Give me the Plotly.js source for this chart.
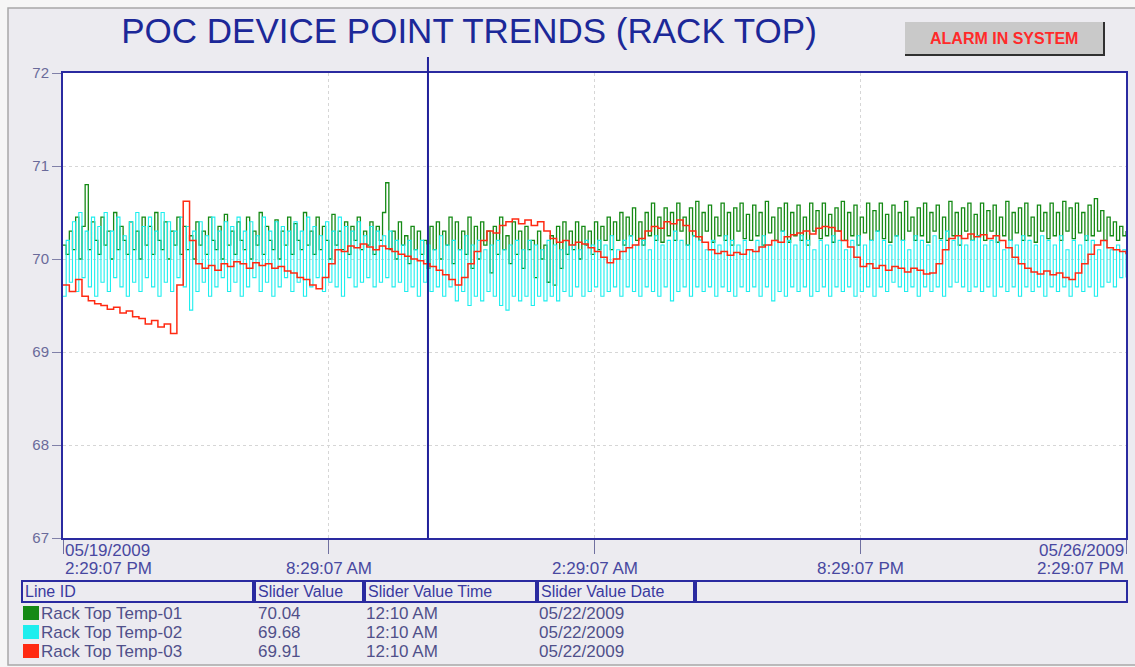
<!DOCTYPE html>
<html>
<head>
<meta charset="utf-8">
<script src="https://cdn.plot.ly/plotly-3.0.1.min.js"></script>
<style>
html,body{margin:0;padding:0;background:#F6F6F6;}
#chart{width:1135px;height:667px;}
</style>
</head>
<body>
<div id="chart"></div>
<script>
// ---------- DATA ----------
const startTime = '2009-05-19 14:29:07';
const endTime   = '2009-05-26 14:29:07';
const spanHours = 168;
const sliderTime = '2009-05-22 00:10:00';

const seriesNames = ['Rack Top Temp-01', 'Rack Top Temp-02', 'Rack Top Temp-03'];

// Rack Top Temp-01 (half-hourly samples)
const temp01 = [
70.15,70.05,70.3,70.1,70.45,70.0,70.35,70.8,70.1,70.4,70.2,70.05,70.45,70.15,70.3,70.0,70.5,70.1,70.35,70.2,70.05,70.4,70.1,70.3,
70.0,70.45,70.15,70.35,70.05,70.5,70.2,70.1,70.4,70.0,70.3,70.15,70.45,70.05,70.35,70.1,70.25,70.0,70.4,70.15,70.3,70.05,70.45,70.2,
70.1,70.35,70.0,70.48,70.15,70.3,70.05,70.4,70.2,70.1,70.45,70.0,70.3,70.15,70.5,70.05,70.35,70.2,70.1,70.42,70.0,70.3,70.15,70.45,
70.05,70.38,70.2,70.1,70.5,70.15,70.3,70.05,70.45,70.1,70.35,70.2,70.0,70.48,70.15,70.3,70.1,70.4,70.05,70.35,70.2,70.45,70.1,70.3,
70.15,70.4,70.05,70.35,70.2,70.5,70.82,70.1,70.3,70.0,70.4,70.15,70.25,69.95,70.35,70.1,70.3,70.05,70.2,69.9,70.35,70.1,70.4,70.0,
70.3,70.15,70.45,69.95,70.4,70.1,70.3,70.05,70.45,69.9,70.35,70.0,70.4,70.15,70.3,69.85,70.35,70.05,70.45,70.1,70.25,69.95,70.4,70.05,
70.3,69.9,70.35,70.1,70.2,69.8,70.3,70.0,70.15,69.75,70.25,69.72,70.35,69.9,70.4,70.05,70.3,70.1,70.4,70.0,70.35,70.15,70.3,70.05,
70.4,70.1,70.35,70.2,70.45,70.1,70.4,70.2,70.5,70.15,70.45,70.25,70.55,70.2,70.4,70.15,70.5,70.25,70.6,70.2,70.45,70.18,70.55,70.25,
70.5,70.2,70.6,70.3,70.45,70.15,70.55,70.25,70.62,70.2,70.5,70.3,70.58,70.18,70.45,70.25,70.6,70.2,70.5,70.15,70.55,70.3,70.6,70.22,
70.48,70.2,70.58,70.25,70.5,70.15,70.62,70.28,70.45,70.2,70.55,70.3,70.6,70.18,70.5,70.25,70.58,70.2,70.45,70.15,70.6,70.3,70.52,70.22,
70.6,70.25,70.48,70.18,70.55,70.3,70.62,70.2,70.5,70.25,70.58,70.15,70.45,70.28,70.6,70.2,70.52,70.3,70.6,70.22,70.48,70.18,70.58,70.25,
70.5,70.2,70.62,70.3,70.45,70.2,70.55,70.25,70.6,70.18,70.5,70.3,70.58,70.22,70.45,70.2,70.62,70.25,70.5,70.15,70.55,70.3,70.6,70.2,
70.48,70.25,70.6,70.2,70.52,70.3,70.58,70.18,70.45,70.25,70.62,70.2,70.5,70.28,70.55,70.2,70.6,70.25,70.45,70.18,70.58,70.3,70.5,70.22,
70.6,70.25,70.5,70.2,70.62,70.3,70.55,70.22,70.6,70.28,70.5,70.2,70.58,70.25,70.65,70.3,70.52,70.2,70.45,70.25,70.4,70.2,70.35,70.25,
70.3
];

// Rack Top Temp-02 (half-hourly samples)
const temp02 = [
69.6,70.2,69.75,70.4,69.65,70.5,69.8,70.3,69.7,70.45,69.6,70.35,69.75,70.5,69.65,70.3,69.8,70.45,69.7,70.25,69.6,70.4,69.75,70.5,
69.65,70.35,69.8,70.45,69.7,70.3,69.6,70.5,69.75,70.4,69.65,70.3,69.8,70.45,69.7,70.35,69.45,70.3,69.65,70.4,69.75,70.25,69.6,70.45,
69.7,70.3,69.8,70.4,69.65,70.35,69.75,70.45,69.6,70.3,69.7,70.4,69.8,70.25,69.65,70.45,69.75,70.3,69.6,70.4,69.7,70.35,69.8,70.3,
69.65,70.4,69.75,70.3,69.6,70.45,69.7,70.35,69.8,70.25,69.65,70.4,69.75,70.3,69.7,70.45,69.6,70.35,69.8,70.3,69.7,70.4,69.75,70.25,
69.8,70.35,69.7,70.3,69.75,70.25,69.8,70.3,69.7,70.2,69.75,70.15,69.65,70.2,69.7,70.1,69.6,70.2,69.75,70.15,69.65,70.1,69.7,70.25,
69.6,70.15,69.7,70.2,69.55,70.1,69.65,70.25,69.5,70.15,69.6,70.2,69.55,70.1,69.65,70.15,69.6,70.2,69.5,70.1,69.45,70.15,69.6,70.2,
69.55,70.1,69.6,70.2,69.5,70.15,69.6,70.1,69.55,70.2,69.6,70.15,69.55,70.1,69.65,70.2,69.6,70.15,69.7,70.1,69.6,70.2,69.65,70.15,
69.7,70.2,69.6,70.15,69.65,70.25,69.7,70.1,69.6,70.2,69.7,70.25,69.65,70.15,69.6,70.2,69.7,70.1,69.65,70.25,69.6,70.15,69.7,70.2,
69.55,70.3,69.65,70.2,69.7,70.15,69.6,70.25,69.7,70.2,69.65,70.1,69.7,70.2,69.6,70.15,69.7,70.25,69.65,70.2,69.6,70.15,69.7,70.2,
69.65,70.1,69.7,70.2,69.6,70.25,69.7,70.15,69.55,70.2,69.65,70.3,69.6,70.2,69.7,70.15,69.65,70.25,69.7,70.2,69.6,70.1,69.65,70.2,
69.7,70.15,69.6,70.25,69.7,70.2,69.65,70.1,69.7,70.2,69.6,70.25,69.65,70.15,69.7,70.2,69.6,70.3,69.7,70.2,69.65,70.15,69.75,70.25,
69.7,70.2,69.65,70.1,69.7,70.25,69.6,70.2,69.7,70.15,69.65,70.25,69.7,70.2,69.6,70.3,69.7,70.2,69.75,70.25,69.7,70.15,69.65,70.2,
69.7,70.25,69.65,70.15,69.7,70.2,69.6,70.25,69.7,70.1,69.65,70.2,69.7,70.15,69.6,70.25,69.7,70.2,69.65,70.15,69.7,70.25,69.6,70.2,
69.7,70.15,69.65,70.25,69.7,70.1,69.6,70.2,69.7,70.15,69.65,70.25,69.7,70.2,69.6,70.1,69.7,70.2,69.75,70.1,69.7,70.15,69.8,70.1,
69.8
];

// Rack Top Temp-03 (hourly samples)
const temp03 = [
69.72,69.65,69.78,69.6,69.55,69.52,69.5,69.46,69.48,69.42,69.44,69.38,69.36,69.3,69.34,69.27,69.3,69.2,69.72,70.62,
70.2,69.95,69.9,69.93,69.88,69.95,69.92,69.97,69.95,69.9,69.96,69.93,69.95,69.9,69.92,69.87,69.85,69.8,69.78,69.72,
69.68,69.8,69.95,70.1,70.08,70.14,70.12,70.16,70.13,70.1,70.14,70.11,70.08,70.05,70.03,70.0,69.98,69.95,69.92,69.88,
69.83,69.78,69.72,69.8,69.95,70.08,70.2,70.3,70.28,70.36,70.4,70.43,70.38,70.42,70.36,70.4,70.3,70.22,70.18,70.2,
70.15,70.18,70.16,70.12,70.08,70.02,69.96,70.0,70.08,70.12,70.15,70.22,70.3,70.35,70.33,70.4,70.38,70.42,70.36,70.3,
70.24,70.18,70.1,70.06,70.08,70.04,70.07,70.05,70.1,70.08,70.13,70.15,70.2,70.18,70.24,70.26,70.28,70.3,70.27,70.33,
70.35,70.34,70.3,70.2,70.13,70.02,69.92,69.95,69.9,69.93,69.88,69.92,69.9,69.86,69.9,69.88,69.84,69.85,69.95,70.1,
70.22,70.25,70.22,70.27,70.24,70.26,70.22,70.25,70.2,70.12,70.02,69.95,69.9,69.86,69.84,69.87,69.83,69.85,69.8,69.78,
69.85,69.95,70.05,70.15,70.2,70.12,70.1,70.08,70.05
];

const seriesColors = ['#158a15', '#1eeeee', '#ff2a12'];

const yTickVals = [67, 68, 69, 70, 71, 72];
const xTickDates = ['2009-05-19 14:29:07','2009-05-21 08:29:07','2009-05-23 02:29:07','2009-05-24 20:29:07','2009-05-26 14:29:07'];
const xTickLine1 = ['05/19/2009', '', '', '', '05/26/2009'];
const xTickLine2 = ['2:29:07 PM', '8:29:07 AM', '2:29:07 AM', '8:29:07 PM', '2:29:07 PM'];

const tableHeaders = ['Line ID', 'Slider Value', 'Slider Value Time', 'Slider Value Date', ''];
const sliderValues = ['70.04', '69.68', '69.91'];
const sliderTimes  = ['12:10 AM', '12:10 AM', '12:10 AM'];
const sliderDates  = ['05/22/2009', '05/22/2009', '05/22/2009'];

const chartTitle = 'POC DEVICE POINT TRENDS (RACK TOP)';
const alarmText = 'ALARM IN SYSTEM';

// ---------- BUILD ----------
const t0 = Date.UTC(2009, 4, 19, 14, 29, 7);
function timesFor(n) {
  const stepMs = spanHours * 3600e3 / (n - 1);
  const out = [];
  for (let i = 0; i < n; i++) {
    out.push(new Date(t0 + i * stepMs).toISOString().slice(0, 19).replace('T', ' '));
  }
  return out;
}

const allSeries = [temp01, temp02, temp03];
const widths = [1.3, 1.1, 1.5];
const traces = allSeries.map((ys, k) => ({
  type: 'scatter', mode: 'lines', name: seriesNames[k],
  x: timesFor(ys.length), y: ys, line: {color: seriesColors[k], width: widths[k], shape: 'hv'},
  hoverinfo: 'skip'
}));

// pixel -> paper helpers (plot area 63..1126 x, 73..538 y)
const L = 63, R = 1126, T = 73, B = 538;
const px = x => (x - L) / (R - L);
const py = y => (B - y) / (B - T);

const blue = '#2a2aa0';
const FONT = 'Liberation Sans, Arial, sans-serif';

const shapes = [];
const annotations = [];

// outer frame
shapes.push({type: 'rect', xref: 'paper', yref: 'paper', x0: px(8), x1: px(1160), y0: py(665), y1: py(8),
  fillcolor: '#ECEBF0', line: {color: '#a8a8a8', width: 1.5}, layer: 'below'});
// white plotting area
shapes.push({type: 'rect', xref: 'paper', yref: 'paper', x0: 0, x1: 1, y0: 0, y1: 1,
  fillcolor: '#FFFFFF', line: {width: 0}, layer: 'below'});

// slider line
shapes.push({type: 'line', xref: 'x', yref: 'paper', x0: sliderTime, x1: sliderTime, y0: 0, y1: py(57),
  line: {color: '#20209a', width: 2}});

// alarm button
shapes.push({type: 'rect', xref: 'paper', yref: 'paper', x0: px(905), x1: px(1104), y0: py(55), y1: py(22),
  fillcolor: '#C9C9C9', line: {width: 0}});
shapes.push({type: 'line', xref: 'paper', yref: 'paper', x0: px(905), x1: px(1105), y0: py(55), y1: py(55),
  line: {color: '#303030', width: 2}});
shapes.push({type: 'line', xref: 'paper', yref: 'paper', x0: px(1104), x1: px(1104), y0: py(22), y1: py(55),
  line: {color: '#303030', width: 2}});
annotations.push({xref: 'paper', yref: 'paper', x: px(1004), y: py(38), text: '<b>' + alarmText + '</b>',
  showarrow: false, xanchor: 'center', yanchor: 'middle',
  font: {family: FONT, size: 16, color: '#ff2a2a'}});

// x tick labels
xTickDates.forEach((d, i) => {
  const anchor = i === 0 ? 'left' : (i === xTickDates.length - 1 ? 'right' : 'center');
  if (xTickLine1[i]) {
    annotations.push({xref: 'x', yref: 'paper', x: d, y: py(550), text: xTickLine1[i], showarrow: false,
      xanchor: anchor, yanchor: 'middle', font: {family: FONT, size: 17, color: '#4848a0'}});
  }
  annotations.push({xref: 'x', yref: 'paper', x: d, y: py(568), text: xTickLine2[i], showarrow: false,
    xanchor: anchor, yanchor: 'middle', font: {family: FONT, size: 17, color: '#4848a0'}});
});

// table
const colEdges = [[22, 253], [255, 363], [365, 536], [538, 694], [696, 1127]];
colEdges.forEach((c, i) => {
  shapes.push({type: 'rect', xref: 'paper', yref: 'paper', x0: px(c[0]), x1: px(c[1]), y0: py(602), y1: py(581),
    line: {color: blue, width: 2}, fillcolor: 'rgba(0,0,0,0)'});
  if (tableHeaders[i]) {
    annotations.push({xref: 'paper', yref: 'paper', x: px(c[0] + 1), y: py(591.5), text: tableHeaders[i],
      showarrow: false, xanchor: 'left', yanchor: 'middle', font: {family: FONT, size: 16, color: '#3a3aa0'}});
  }
});
const rowY = [613, 632, 651];
seriesNames.forEach((nm, k) => {
  shapes.push({type: 'rect', xref: 'paper', yref: 'paper', x0: px(23), x1: px(39), y0: py(rowY[k] + 7), y1: py(rowY[k] - 7),
    fillcolor: seriesColors[k], line: {width: 0}});
  const rowFont = {family: FONT, size: 17, color: '#50508a'};
  annotations.push({xref: 'paper', yref: 'paper', x: px(39), y: py(rowY[k]), text: nm, showarrow: false,
    xanchor: 'left', yanchor: 'middle', font: rowFont});
  annotations.push({xref: 'paper', yref: 'paper', x: px(256), y: py(rowY[k]), text: sliderValues[k], showarrow: false,
    xanchor: 'left', yanchor: 'middle', font: rowFont});
  annotations.push({xref: 'paper', yref: 'paper', x: px(364), y: py(rowY[k]), text: sliderTimes[k], showarrow: false,
    xanchor: 'left', yanchor: 'middle', font: rowFont});
  annotations.push({xref: 'paper', yref: 'paper', x: px(537), y: py(rowY[k]), text: sliderDates[k], showarrow: false,
    xanchor: 'left', yanchor: 'middle', font: rowFont});
});

const layout = {
  width: 1135, height: 667,
  margin: {l: L, r: 1135 - R, t: T, b: 667 - B, pad: 0},
  paper_bgcolor: '#F6F6F6',
  plot_bgcolor: '#FFFFFF',
  showlegend: false,
  hovermode: false,
  title: {text: chartTitle, x: px(469), xref: 'paper', xanchor: 'center', y: 1 - 31 / 667, yref: 'container', yanchor: 'middle',
    font: {family: FONT, size: 35, color: '#1c2898'}},
  xaxis: {
    type: 'date', range: [startTime, endTime],
    tickmode: 'array', tickvals: xTickDates, showticklabels: false,
    ticks: 'outside', ticklen: 14, tickwidth: 1, tickcolor: '#7070a0',
    showgrid: true, gridcolor: '#d6d6d6', griddash: 'dot', gridwidth: 1,
    showline: true, linecolor: blue, linewidth: 2, mirror: true, zeroline: false, fixedrange: true
  },
  yaxis: {
    range: [67, 72], tickmode: 'array', tickvals: yTickVals,
    ticks: 'outside', ticklen: 9, tickcolor: '#8080a8',
    tickfont: {family: FONT, size: 15, color: '#6a6a9a'},
    showgrid: true, gridcolor: '#d6d6d6', griddash: 'dot', gridwidth: 1,
    showline: true, linecolor: blue, linewidth: 2, mirror: true, zeroline: false, fixedrange: true
  },
  shapes: shapes,
  annotations: annotations
};

Plotly.newPlot('chart', traces, layout, {staticPlot: true, displayModeBar: false});
</script>
</body>
</html>
